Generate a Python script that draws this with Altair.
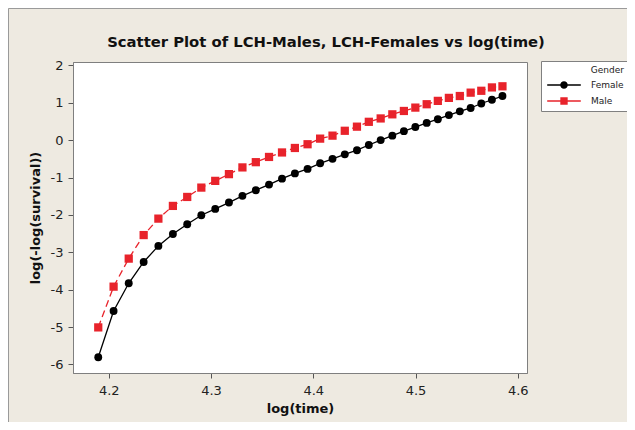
import altair as alt
import pandas as pd

# log(time) values (x) shared by both series
log_time = [4.1897, 4.2047, 4.2195, 4.2341, 4.2485, 4.2627, 4.2767, 4.2905, 4.3041,
            4.3175, 4.3307, 4.3438, 4.3567, 4.3694, 4.3820, 4.3944, 4.4067, 4.4188,
            4.4308, 4.4427, 4.4543, 4.4659, 4.4773, 4.4886, 4.4998, 4.5109, 4.5218,
            4.5326, 4.5433, 4.5539, 4.5643, 4.5747, 4.5850]

female_vals = [-5.81, -4.57, -3.83, -3.26, -2.83, -2.51, -2.25, -2.01, -1.84, -1.67,
               -1.49, -1.34, -1.19, -1.03, -0.89, -0.77, -0.62, -0.50, -0.38, -0.27,
               -0.13, 0.00, 0.12, 0.24, 0.35, 0.46, 0.56, 0.67, 0.77, 0.86, 0.98,
               1.08, 1.18]

male_vals = [-5.01, -3.92, -3.17, -2.54, -2.10, -1.76, -1.52, -1.27, -1.09, -0.91,
             -0.73, -0.59, -0.45, -0.33, -0.21, -0.11, 0.04, 0.12, 0.25, 0.36, 0.49,
             0.58, 0.69, 0.78, 0.87, 0.96, 1.05, 1.13, 1.18, 1.27, 1.32, 1.41, 1.44]

genders = ["Female", "Male"]
colors = ["#000000", "#E8232B"]
x_ticks = [4.2, 4.3, 4.4, 4.5, 4.6]
y_ticks = [-6, -5, -4, -3, -2, -1, 0, 1, 2]

rows = []
for g, vals in zip(genders, [female_vals, male_vals]):
    for i, (x, y) in enumerate(zip(log_time, vals)):
        rows.append({"Gender": g, "logtime": x, "val": y, "order": i})
df = pd.DataFrame(rows)
df_f = df[df.Gender == "Female"]
df_m = df[df.Gender == "Male"]

FONT = "DejaVu Sans"

x_enc = alt.X("logtime:Q", scale=alt.Scale(domain=[4.165, 4.609], nice=False, zero=False),
              axis=alt.Axis(values=x_ticks, format=".1f", title="log(time)",
                            labelPadding=6, titlePadding=5))
y_enc = alt.Y("val:Q", scale=alt.Scale(domain=[-6.23, 2.09], nice=False, zero=False),
              axis=alt.Axis(values=y_ticks, labelExpr="'' + datum.value", title="log(-log(survival))",
                            labelPadding=5, titlePadding=8))

# legend symbols: a short line with the marker in its middle (units of 8 px)
female_path = ("M-2.1,-0.09H2.1V0.09H-2.1Z "
               "M-0.47,0A0.47,0.47 0 1,1 0.47,0A0.47,0.47 0 1,1 -0.47,0Z")
male_path = ("M-2.1,-0.09H2.1V0.09H-2.1Z "
             "M-0.46,-0.46H0.46V0.46H-0.46Z")

legend = alt.Legend(
    title="Gender", orient="none", legendX=468, legendY=-1,
    fillColor="white", strokeColor="#808080", padding=5,
    titleFont=FONT, titleFontSize=9, titleFontWeight="normal", titleColor="#222222",
    titleAnchor="end", titleAlign="right", titlePadding=2,
    labelFont=FONT, labelFontSize=9, labelColor="#222222", labelOffset=19,
    symbolSize=256, symbolStrokeWidth=0, symbolOpacity=1, symbolOffset=10, rowPadding=3,
)

line_f = alt.Chart(df_f).mark_line(strokeWidth=1.3, color=colors[0]).encode(
    x=x_enc, y=y_enc, order="order:Q")
line_m = alt.Chart(df_m).mark_line(strokeWidth=1.3, color=colors[1], strokeDash=[7, 4]).encode(
    x=x_enc, y=y_enc, order="order:Q")
pts_f = alt.Chart(df_f).mark_point(filled=True, opacity=1, shape="circle", size=62, color=colors[0]).encode(
    x=x_enc, y=y_enc)
pts_m = alt.Chart(df_m).mark_point(filled=True, opacity=1, shape="square", size=68, color=colors[1]).encode(
    x=x_enc, y=y_enc)

legend_layer = alt.Chart(df).transform_filter("false").mark_point(filled=True, opacity=1, size=256).encode(
    x=x_enc, y=y_enc,
    color=alt.Color("Gender:N", scale=alt.Scale(domain=genders, range=colors), legend=legend),
    shape=alt.Shape("Gender:N", scale=alt.Scale(domain=genders, range=[female_path, male_path]), legend=legend),
)

frame = alt.Chart(pd.DataFrame({"a": [0]})).mark_rect(filled=False, stroke="#9A9A9A", strokeWidth=1, clip=False).encode(
    x=alt.value(-64.5), x2=alt.value(700), y=alt.value(-53.5), y2=alt.value(500)
)

chart = alt.layer(frame, line_f, line_m, pts_f, pts_m, legend_layer).properties(
    width=454, height=311,
    autosize=alt.AutoSizeParams(type="none"),
    padding={"left": 65, "top": 54, "right": 100, "bottom": 49},
    title=alt.TitleParams(
        "Scatter Plot of LCH-Males, LCH-Females vs log(time)",
        font=FONT, fontSize=14.8, fontWeight="bold", color="#111111",
        anchor="middle", frame="group", dx=26, dy=57, offset=0, baseline="bottom",
    ),
).configure(background="#EEEAE1").configure_view(
    fill="white", stroke="#7F7F7F", strokeWidth=1
).configure_axis(
    grid=False, labelFont=FONT, labelFontSize=13, labelColor="#222222",
    titleFont=FONT, titleFontSize=13, titleFontWeight="bold", titleColor="#111111",
    domainColor="#7F7F7F", tickColor="#555555", tickSize=5,
)

chart.save("out.html", embed_options={"renderer": "svg", "actions": False})
